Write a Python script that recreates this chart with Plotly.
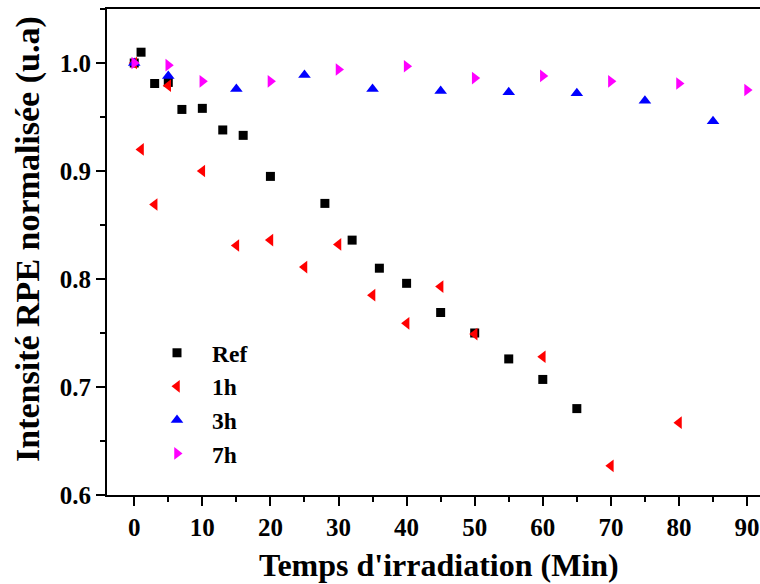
import plotly.graph_objects as go

# Irradiation time (min) and normalised EPR intensity for each sample
t_ref = [0, 1, 3, 5, 7, 10, 13, 16, 20, 28, 32, 36, 40, 45, 50, 55, 60, 65]
i_ref = [1.000, 1.010, 0.981, 0.982, 0.957, 0.958, 0.938, 0.933, 0.895,
         0.870, 0.836, 0.810, 0.796, 0.769, 0.750, 0.726, 0.707, 0.680]

t_1h = [0, 1, 3, 5, 10, 15, 20, 25, 30, 35, 40, 45, 50, 60, 70, 80]
i_1h = [1.000, 0.920, 0.869, 0.979, 0.900, 0.831, 0.836, 0.811, 0.832,
        0.785, 0.759, 0.793, 0.749, 0.728, 0.627, 0.667]

t_3h = [0, 5, 15, 25, 35, 45, 55, 65, 75, 85]
i_3h = [1.000, 0.988, 0.976, 0.989, 0.976, 0.974, 0.973, 0.972, 0.965, 0.946]

t_7h = [0, 5, 10, 20, 30, 40, 50, 60, 70, 80, 90]
i_7h = [1.000, 0.998, 0.983, 0.983, 0.994, 0.997, 0.986, 0.988, 0.983, 0.981, 0.975]

x_ticks = [0, 10, 20, 30, 40, 50, 60, 70, 80, 90]
y_ticks = [0.6, 0.7, 0.8, 0.9, 1.0]

FONT = "Liberation Serif"

series = [
    ("Ref", t_ref, i_ref, "square", "#000000", 9),
    ("1h", t_1h, i_1h, "triangle-left", "#ff0000", 11),
    ("3h", t_3h, i_3h, "triangle-up", "#0000ff", 11),
    ("7h", t_7h, i_7h, "triangle-right", "#ff00ff", 11),
]

fig = go.Figure()
for name, xs, ys, sym, col, sz in series:
    fig.add_trace(go.Scatter(
        x=xs, y=ys, mode="markers", name=name,
        marker=dict(symbol=sym, color=col, size=sz, line=dict(width=0)),
    ))

W, H = 760, 584
ml, mr, mt, mb = 107, 0, 9, 89
pw, ph = W - ml - mr, H - mt - mb


def px(x):
    return (x - ml) / pw


def py(y):
    return (H - mb - y) / ph


fig.update_layout(
    width=W, height=H,
    margin=dict(l=ml, r=mr, t=mt, b=mb, pad=0),
    paper_bgcolor="white", plot_bgcolor="white",
    font=dict(family=FONT, color="black", size=25, weight="bold"),
    showlegend=True,
    legend=dict(
        x=px(142), y=py(331), xanchor="left", yanchor="top",
        bgcolor="rgba(0,0,0,0)", borderwidth=0,
        font=dict(family=FONT, size=23.5, color="black", weight="bold"),
        itemwidth=60, tracegroupgap=0,
    ),
    xaxis=dict(
        range=[-4, 91.9], tickvals=x_ticks, ticktext=[str(v) for v in x_ticks],
        showgrid=False, zeroline=False, showline=True, linecolor="black",
        linewidth=2, mirror=True, ticks="outside", ticklen=9, tickwidth=2,
        tickcolor="black", automargin=False,
        tickfont=dict(family=FONT, size=25, weight="bold"),
        minor=dict(dtick=5, tick0=0, ticks="outside", ticklen=5, tickwidth=2,
                   tickcolor="black", showgrid=False),
    ),
    yaxis=dict(
        range=[0.6, 1.05], tickvals=y_ticks, ticktext=[f"{v:.1f}" for v in y_ticks],
        showgrid=False, zeroline=False, showline=True, linecolor="black",
        linewidth=2, mirror=False, ticks="outside", ticklen=9, tickwidth=2,
        tickcolor="black", automargin=False,
        tickfont=dict(family=FONT, size=25, weight="bold"),
        minor=dict(dtick=0.05, tick0=0.6, ticks="outside", ticklen=5, tickwidth=2,
                   tickcolor="black", showgrid=False),
    ),
    annotations=[
        dict(text="Temps d'irradiation (Min)", xref="paper", yref="paper",
             x=px(438.5), y=py(565), xanchor="center", yanchor="middle",
             showarrow=False,
             font=dict(family=FONT, size=32, color="black", weight="bold")),
        dict(text="Intensité RPE normalisée (u.a)", xref="paper", yref="paper",
             x=px(28), y=py(239), xanchor="center", yanchor="middle",
             textangle=-90, showarrow=False,
             font=dict(family=FONT, size=34, color="black", weight="bold")),
    ],
)

fig.write_html("out.html")
